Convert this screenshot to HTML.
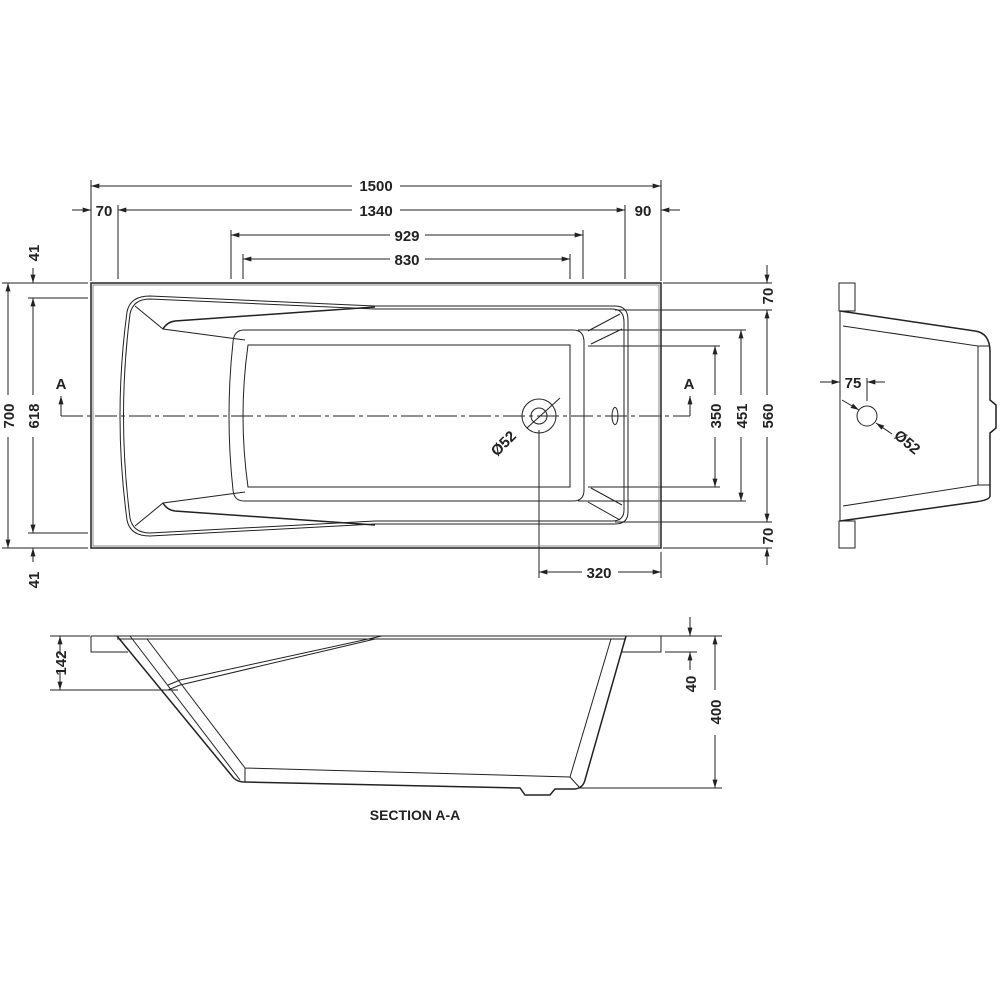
<!DOCTYPE html>
<html><head><meta charset="utf-8"><style>
html,body{margin:0;padding:0;background:#fff;}
svg{display:block;}
text{font-family:"Liberation Sans",sans-serif;font-weight:bold;font-size:15px;fill:#222;}
</style></head><body>
<svg width="1000" height="1000" viewBox="0 0 1000 1000" xmlns="http://www.w3.org/2000/svg">
<defs>
<marker id="a" viewBox="0 0 10 6" refX="10" refY="3" markerWidth="9" markerHeight="5" orient="auto-start-reverse" markerUnits="userSpaceOnUse"><path d="M0,0L10,3L0,6z" fill="#222"/></marker>
</defs>
<g stroke="#222" stroke-width="1" fill="none">
<line x1="91" y1="180" x2="91" y2="281"/><line x1="661" y1="180" x2="661" y2="281"/>
<line x1="91" y1="186" x2="352" y2="186" marker-start="url(#a)"/><line x1="400" y1="186" x2="661" y2="186" marker-end="url(#a)"/>
<line x1="118" y1="205" x2="118" y2="279"/><line x1="625" y1="205" x2="625" y2="279"/>
<line x1="118" y1="210" x2="352" y2="210" marker-start="url(#a)"/><line x1="400" y1="210" x2="625" y2="210" marker-end="url(#a)"/>
<line x1="72" y1="210" x2="91" y2="210" marker-end="url(#a)"/><line x1="680" y1="210" x2="661" y2="210" marker-end="url(#a)"/>
<line x1="231" y1="230" x2="231" y2="279"/><line x1="583" y1="230" x2="583" y2="279"/>
<line x1="231" y1="235" x2="390" y2="235" marker-start="url(#a)"/><line x1="425" y1="235" x2="583" y2="235" marker-end="url(#a)"/>
<line x1="243" y1="254" x2="243" y2="279"/><line x1="570" y1="254" x2="570" y2="279"/>
<line x1="243" y1="259" x2="390" y2="259" marker-start="url(#a)"/><line x1="425" y1="259" x2="570" y2="259" marker-end="url(#a)"/>
<line x1="2" y1="283" x2="88" y2="283"/><line x1="2" y1="548" x2="88" y2="548"/>
<line x1="28" y1="298" x2="88" y2="298"/><line x1="28" y1="533" x2="88" y2="533"/>
<line x1="8" y1="283" x2="8" y2="395" marker-start="url(#a)"/><line x1="8" y1="437" x2="8" y2="548" marker-end="url(#a)"/>
<line x1="33" y1="298" x2="33" y2="395" marker-start="url(#a)"/><line x1="33" y1="437" x2="33" y2="533" marker-end="url(#a)"/>
<line x1="33" y1="268" x2="33" y2="283" marker-end="url(#a)"/><line x1="33" y1="562" x2="33" y2="548" marker-end="url(#a)"/>
<line x1="663" y1="283" x2="772" y2="283"/><line x1="663" y1="548" x2="772" y2="548"/>
<line x1="615" y1="310" x2="772" y2="310"/><line x1="615" y1="522" x2="772" y2="522"/>
<line x1="578" y1="330" x2="746" y2="330"/><line x1="578" y1="501" x2="746" y2="501"/>
<line x1="588" y1="346" x2="720" y2="346"/><line x1="588" y1="487" x2="720" y2="487"/>
<line x1="767" y1="310" x2="767" y2="395" marker-start="url(#a)"/><line x1="767" y1="437" x2="767" y2="522" marker-end="url(#a)"/>
<line x1="741" y1="330" x2="741" y2="395" marker-start="url(#a)"/><line x1="741" y1="437" x2="741" y2="501" marker-end="url(#a)"/>
<line x1="715" y1="346" x2="715" y2="395" marker-start="url(#a)"/><line x1="715" y1="437" x2="715" y2="487" marker-end="url(#a)"/>
<line x1="767" y1="265" x2="767" y2="283" marker-end="url(#a)"/><line x1="767" y1="565" x2="767" y2="548" marker-end="url(#a)"/>
<line x1="539" y1="430" x2="539" y2="578"/><line x1="661" y1="552" x2="661" y2="578"/>
<line x1="539" y1="572" x2="582" y2="572" marker-start="url(#a)"/><line x1="618" y1="572" x2="661" y2="572" marker-end="url(#a)"/>
<line x1="61" y1="416" x2="690" y2="416" stroke-dasharray="22,4,4,4"/>
<line x1="61" y1="416" x2="61" y2="396" marker-end="url(#a)"/><line x1="690" y1="416" x2="690" y2="396" marker-end="url(#a)"/>
<rect x="91" y="283" width="570" height="265" stroke-width="1.5"/>
<rect x="93" y="285" width="566" height="261" stroke="#888"/>
<path d="M150,296 L375,306 L615,306 Q628,306 628,320 L628,512 Q628,524 615,524 L375,524 L150,536 Q130,536 127,520 Q113,416 127,312 Q130,296 150,296 Z"/>
<path d="M150,299 L375,309 L612,309 Q624,309 624,322 L624,510 Q624,521 612,521 L375,521 L150,533 Q133,533 130,518 Q117,416 130,314 Q133,299 150,299 Z"/>
<path d="M135,306 L163,329 L245,340"/><path d="M163,329 Q167,322 175,321 L375,307" stroke-width="1.5"/>
<path d="M135,526 L163,503 L245,492"/><path d="M163,503 Q167,510 175,511 L375,525" stroke-width="1.5"/>
<path d="M620,314 L588,331 M622,329 L591,344 M622,505 L591,488 M620,520 L588,502"/>
<path d="M244,330 L573,330 Q584,330 584,342 L584,490 Q584,501 573,501 L244,501 Q234,501 233,490 Q225,416 233,342 Q234,330 244,330 Z"/>
<path d="M248,345 L570,345 L570,487 L248,487 Q238,416 248,345 Z"/>
<circle cx="539" cy="416" r="17"/><circle cx="539" cy="416" r="8"/>
<line x1="527" y1="428" x2="560" y2="398"/>
<ellipse cx="615" cy="416" rx="3" ry="8.5"/>
<rect x="839" y="283" width="16" height="28"/><rect x="839" y="521" width="16" height="27"/>
<line x1="840" y1="311" x2="840" y2="521"/>
<path d="M840,311 L975,331 Q990,333 990,352 L990,400 L996,405 L996,428 L990,433 L990,496 Q990,500 975,502 L840,521" stroke-width="1.5"/>
<path d="M843,326 L978,346 L978,485 L843,506"/>
<line x1="978" y1="346" x2="990" y2="346"/><line x1="978" y1="485" x2="990" y2="485"/>
<circle cx="867" cy="416" r="10"/>
<line x1="820" y1="382" x2="840" y2="382" marker-end="url(#a)"/><line x1="885" y1="382" x2="867" y2="382" marker-end="url(#a)"/>
<line x1="867" y1="378" x2="867" y2="401"/>
<line x1="842" y1="400" x2="859" y2="410" marker-end="url(#a)"/><line x1="892" y1="434" x2="876" y2="423" marker-end="url(#a)"/>
<path d="M91,636 L661,636 L661,652 L622,652 M91,636 L91,652 L128,652"/>
<line x1="117" y1="639" x2="626" y2="639"/>
<path d="M117,636 L232,776 Q236,782 245,782 L520,788 L525,795 L550,795 L555,789 L575,789 Q583,788 585,780 L626,636" stroke-width="1.5"/>
<path d="M130,636 L240,780 M147,639 L245,768 L245,782 M245,768 L570,777 L580,788 M570,777 L611,639"/>
<path d="M168,685 L180,680 L382,636 M168,690 L180,685 L375,639"/>
<line x1="50" y1="690" x2="178" y2="690"/><line x1="50" y1="636" x2="90" y2="636"/>
<line x1="60" y1="655" x2="60" y2="636" marker-end="url(#a)"/><line x1="60" y1="672" x2="60" y2="690" marker-end="url(#a)"/>
<line x1="661" y1="636" x2="722" y2="636"/><line x1="665" y1="652" x2="697" y2="652"/>
<line x1="580" y1="788" x2="722" y2="788"/>
<line x1="690" y1="617" x2="690" y2="636" marker-end="url(#a)"/><line x1="690" y1="670" x2="690" y2="652" marker-end="url(#a)"/>
<line x1="715" y1="636" x2="715" y2="690" marker-start="url(#a)"/><line x1="715" y1="735" x2="715" y2="788" marker-end="url(#a)"/>
</g>
<text x="376" y="191" text-anchor="middle">1500</text>
<text x="376" y="216" text-anchor="middle">1340</text>
<text x="104" y="216" text-anchor="middle">70</text>
<text x="643" y="216" text-anchor="middle">90</text>
<text x="407" y="241" text-anchor="middle">929</text>
<text x="407" y="265" text-anchor="middle">830</text>
<text x="61" y="389" text-anchor="middle">A</text>
<text x="689" y="389" text-anchor="middle">A</text>
<text x="599" y="578" text-anchor="middle">320</text>
<text x="415" y="820" text-anchor="middle" style="font-size:14px">SECTION A-A</text>
<text transform="translate(14,416) rotate(-90)" text-anchor="middle">700</text>
<text transform="translate(39,416) rotate(-90)" text-anchor="middle">618</text>
<text transform="translate(39,253) rotate(-90)" text-anchor="middle">41</text>
<text transform="translate(39,580) rotate(-90)" text-anchor="middle">41</text>
<text transform="translate(773,416) rotate(-90)" text-anchor="middle">560</text>
<text transform="translate(747,416) rotate(-90)" text-anchor="middle">451</text>
<text transform="translate(721,416) rotate(-90)" text-anchor="middle">350</text>
<text transform="translate(773,296) rotate(-90)" text-anchor="middle">70</text>
<text transform="translate(773,536) rotate(-90)" text-anchor="middle">70</text>
<text transform="translate(66,663) rotate(-90)" text-anchor="middle">142</text>
<text transform="translate(696,684) rotate(-90)" text-anchor="middle">40</text>
<text transform="translate(721,712) rotate(-90)" text-anchor="middle">400</text>
<text transform="translate(507,447) rotate(-45)" text-anchor="middle">Ø52</text>
<text x="853" y="388" text-anchor="middle">75</text>
<text transform="translate(904,446) rotate(40)" text-anchor="middle">Ø52</text>
</svg>
</body></html>
